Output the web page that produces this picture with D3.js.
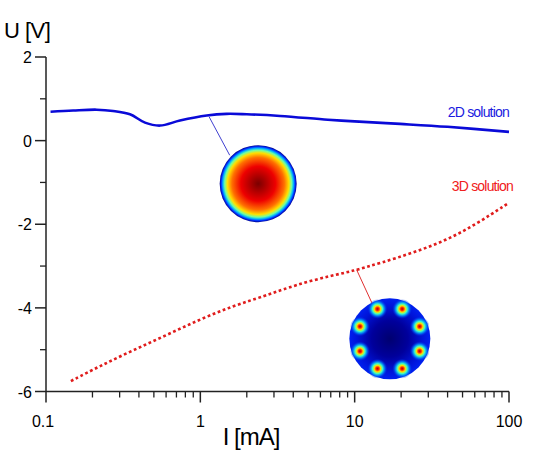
<!DOCTYPE html>
<html>
<head>
<meta charset="utf-8">
<script src="https://cdn.jsdelivr.net/npm/d3@7"></script>
<style>
  body { margin: 0; background: #fff; }
  text { font-family: "Liberation Sans", Arial, sans-serif; }
</style>
</head>
<body>
<div id="chart"></div>
<script>
// 2D solution (solid blue)
const current2D = [0.107, 0.15, 0.213, 0.272, 0.35, 0.438, 0.548, 0.738, 1.10, 1.48, 2.0, 3.29, 6.7, 10, 19.7, 40, 100];
const voltage2D = [0.69, 0.72, 0.74, 0.71, 0.63, 0.43, 0.36, 0.48, 0.60, 0.64, 0.63, 0.59, 0.50, 0.46, 0.40, 0.33, 0.21];

// 3D solution (dotted red)
const current3D = [0.145, 0.224, 0.368, 0.605, 1.0, 1.64, 2.69, 3.28, 5.38, 8.89, 10.3, 14.6, 24, 39.5, 61.8, 97.6];
const voltage3D = [-5.75, -5.39, -5.01, -4.65, -4.27, -3.95, -3.70, -3.58, -3.33, -3.15, -3.09, -2.93, -2.68, -2.38, -1.99, -1.51];

const xTicks = [0.1, 1, 10, 100];
const xTickLabels = ["0.1", "1", "10", "100"];
const yTicks = [2, 0, -2, -4, -6];
const yTickLabels = ["2", "0", "-2", "-4", "-6"];

// insets: field pictures, anchored in data coordinates
const insetCenter = [[2.37, -1.03], [16.9, -4.74]];
const connectorFrom = [[1.14, 0.57], [10.3, -3.09]];
const connectorTo = [[1.55, -0.35], [13.0, -3.9]];

const width = 542, height = 453;
const padding = {top: 57, right: 33, bottom: 61.5, left: 46};

const svg = d3.select("#chart").append("svg")
    .attr("width", width)
    .attr("height", height);

const xScale = d3.scaleLog()
    .domain([0.1, 100])
    .range([padding.left, width - padding.right]);

const yScale = d3.scaleLinear()
    .domain([-6, 2])
    .range([height - padding.bottom, padding.top]);

const defs = svg.append("defs");

// jet colour map, hot in the centre
const jetHot = defs.append("radialGradient").attr("id", "jetHot");
[[0, "#7a0000"], [0.45, "#ee0000"], [0.68, "#ff7000"], [0.8, "#ffe000"], [0.87, "#70ffa0"], [0.92, "#00b0ff"], [0.96, "#0030ff"], [1, "#00008a"]]
    .forEach(s => jetHot.append("stop").attr("offset", s[0]).attr("stop-color", s[1]));

const blueBg = defs.append("radialGradient").attr("id", "blueBg");
[[0, "#000070"], [0.45, "#00009c"], [0.8, "#0014d8"], [1, "#0020f0"]]
    .forEach(s => blueBg.append("stop").attr("offset", s[0]).attr("stop-color", s[1]));

const spot = defs.append("radialGradient").attr("id", "spot");
[[0, "#b00000", 1], [0.15, "#ff2000", 1], [0.32, "#ffe000", 1], [0.5, "#40ffc0", 1], [0.7, "#0090ff", 0.85], [1, "#0020e0", 0]]
    .forEach(s => spot.append("stop").attr("offset", s[0]).attr("stop-color", s[1]).attr("stop-opacity", s[2]));

// x axis
const xAxis = svg.append("g")
    .attr("transform", "translate(0," + yScale(-6) + ")");
xAxis.append("line")
    .attr("x1", xScale(0.1)).attr("x2", xScale(100))
    .attr("stroke", "#222").attr("stroke-width", 1.5);
const minorX = [];
[0.1, 1, 10].forEach(d => { for (let k = 2; k < 10; k++) minorX.push(d * k); });
xAxis.selectAll(".minor").data(minorX).enter().append("line")
    .attr("x1", d => xScale(d)).attr("x2", d => xScale(d))
    .attr("y1", 0).attr("y2", 6)
    .attr("stroke", "#222").attr("stroke-width", 1.3);
xAxis.selectAll(".major").data(xTicks).enter().append("line")
    .attr("x1", d => xScale(d)).attr("x2", d => xScale(d))
    .attr("y1", 0).attr("y2", 11)
    .attr("stroke", "#222").attr("stroke-width", 1.5);
xAxis.selectAll(".tl").data(xTicks).enter().append("text")
    .attr("x", (d, i) => xScale(d) - (i == 0 ? 3 : 0))
    .attr("y", 35)
    .attr("text-anchor", "middle")
    .style("font-size", "16px")
    .text((d, i) => xTickLabels[i]);

// y axis
const yAxis = svg.append("g")
    .attr("transform", "translate(" + xScale(0.1) + ",0)");
yAxis.append("line")
    .attr("y1", yScale(-6)).attr("y2", yScale(2))
    .attr("stroke", "#222").attr("stroke-width", 1.5);
yAxis.selectAll(".minor").data([1, -1, -3, -5]).enter().append("line")
    .attr("y1", d => yScale(d)).attr("y2", d => yScale(d))
    .attr("x1", 0).attr("x2", -6)
    .attr("stroke", "#222").attr("stroke-width", 1.3);
yAxis.selectAll(".major").data(yTicks).enter().append("line")
    .attr("y1", d => yScale(d)).attr("y2", d => yScale(d))
    .attr("x1", 0).attr("x2", -11)
    .attr("stroke", "#222").attr("stroke-width", 1.5);
yAxis.selectAll(".tl").data(yTicks).enter().append("text")
    .attr("x", -14)
    .attr("y", d => yScale(d) + 6)
    .attr("text-anchor", "end")
    .style("font-size", "16px")
    .text((d, i) => yTickLabels[i]);

// axis titles
svg.append("text")
    .attr("x", 4).attr("y", 38)
    .style("font-size", "22px")
    .style("letter-spacing", "-0.5px")
    .text("U [V]");
svg.append("text")
    .attr("x", 251).attr("y", 445)
    .attr("text-anchor", "middle")
    .style("font-size", "24px")
    .style("letter-spacing", "-1px")
    .text("I [mA]");

// connectors
svg.selectAll(".connector").data([0, 1]).enter().append("line")
    .attr("x1", i => xScale(connectorFrom[i][0]))
    .attr("y1", i => yScale(connectorFrom[i][1]))
    .attr("x2", i => xScale(connectorTo[i][0]))
    .attr("y2", i => yScale(connectorTo[i][1]))
    .attr("stroke", i => i == 0 ? "#4040d0" : "#e03030")
    .attr("stroke-width", 1);

// curves
const line2D = d3.line()
    .x(d => xScale(d[0]))
    .y(d => yScale(d[1]))
    .curve(d3.curveCatmullRom);

const line3D = d3.line()
    .x(d => xScale(d[0]))
    .y(d => yScale(d[1]))
    .curve(d3.curveBasis);

svg.append("path")
    .datum(current2D.map((c, i) => [c, voltage2D[i]]))
    .attr("d", line2D)
    .attr("fill", "none")
    .attr("stroke", "#0a0ad8")
    .attr("stroke-width", 2.6);

svg.append("path")
    .datum(current3D.map((c, i) => [c, voltage3D[i]]))
    .attr("d", line3D)
    .attr("fill", "none")
    .attr("stroke", "#e01c1c")
    .attr("stroke-width", 2.6)
    .attr("stroke-dasharray", "2.8,2.6");

// inset 1: centred hot spot
svg.append("circle")
    .attr("cx", xScale(insetCenter[0][0]))
    .attr("cy", yScale(insetCenter[0][1]))
    .attr("r", 38.5)
    .attr("fill", "url(#jetHot)");

// inset 2: eight hot spots on a ring
const cx2 = xScale(insetCenter[1][0]), cy2 = yScale(insetCenter[1][1]);
svg.append("circle")
    .attr("cx", cx2).attr("cy", cy2).attr("r", 40.5)
    .attr("fill", "url(#blueBg)");
const spotAngles = d3.range(8).map(k => (22.5 + 45 * k) * Math.PI / 180);
svg.selectAll(".spot").data(spotAngles).enter().append("circle")
    .attr("cx", a => cx2 + 32.3 * Math.cos(a))
    .attr("cy", a => cy2 + 32.3 * Math.sin(a))
    .attr("r", 10)
    .attr("fill", "url(#spot)");

// series labels
svg.append("text")
    .attr("x", 509).attr("y", 116.5)
    .attr("text-anchor", "end")
    .attr("fill", "#1a1ae0")
    .style("font-size", "14px")
    .style("letter-spacing", "-0.8px")
    .text("2D solution");
svg.append("text")
    .attr("x", 513).attr("y", 191)
    .attr("text-anchor", "end")
    .attr("fill", "#f02020")
    .style("font-size", "14px")
    .style("letter-spacing", "-0.8px")
    .text("3D solution");
</script>
</body>
</html>
